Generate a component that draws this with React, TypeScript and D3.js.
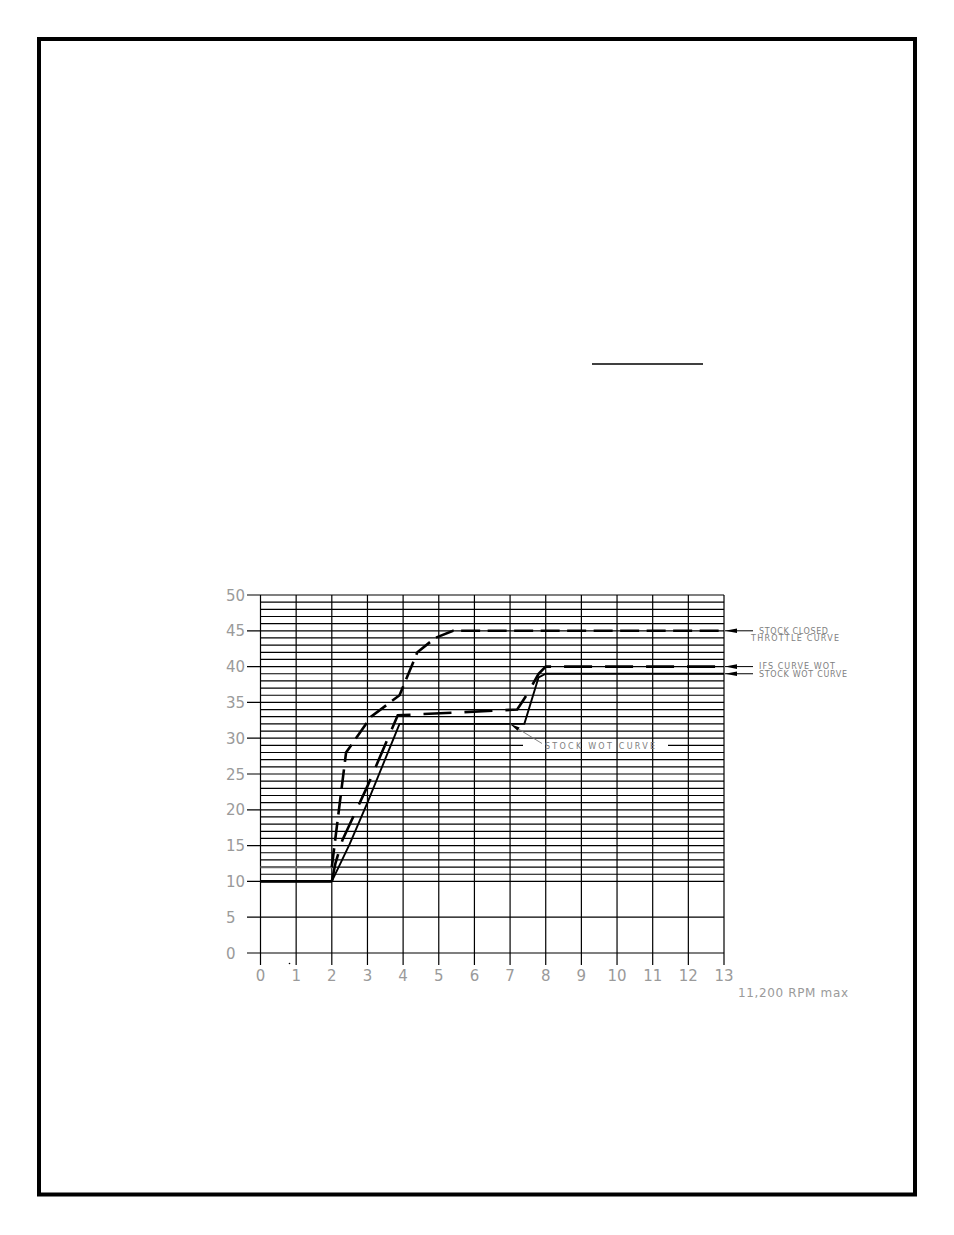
import React from "react";
import * as d3 from "d3";

// engine speed (x 1000 rpm) and timing (degrees)
const rpmTicks = [0, 1, 2, 3, 4, 5, 6, 7, 8, 9, 10, 11, 12, 13];
const degreeTicks = [0, 5, 10, 15, 20, 25, 30, 35, 40, 45, 50];

const closedThrottleX = [0, 2, 2.4, 3.1, 3.9, 4.4, 4.9, 5.4, 13];
const closedThrottleY = [12, 12, 28, 33, 36, 42, 44, 45, 45];

const ifsWotX = [0, 2, 2.1, 2.3, 3, 3.85, 7.2, 7.5, 7.8, 8, 13];
const ifsWotY = [10, 10, 12.5, 15.8, 23.3, 33.2, 34, 36.3, 39, 40, 40];

const stockWotX = [0, 2, 2.5, 3, 3.9, 7.4, 7.8, 8, 13];
const stockWotY = [10, 10, 15.2, 21, 32, 32, 38.5, 39, 39];

const W = 954;
const H = 1235;
const TICK = "#9a9a9a";
const NOTE = "#7e7e7e";
const FONT = "'DejaVu Sans', sans-serif";

type Pt = [number, number];
const zip = (xs: number[], ys: number[]): Pt[] => xs.map((x, i) => [x, ys[i]]);

const arrowHead = (tip: Pt, from: Pt, L: number, hw: number) => {
  const dx = from[0] - tip[0];
  const dy = from[1] - tip[1];
  const len = Math.hypot(dx, dy);
  const ux = dx / len;
  const uy = dy / len;
  const bx = tip[0] + ux * L;
  const by = tip[1] + uy * L;
  return [tip, [bx - uy * hw, by + ux * hw], [bx + uy * hw, by - ux * hw]]
    .map((p) => p.join(","))
    .join(" ");
};

const Arrow = ({ tip, from, color = "#000" }: { tip: Pt; from: Pt; color?: string }) => (
  <g>
    <line x1={tip[0]} y1={tip[1]} x2={from[0]} y2={from[1]} stroke={color} strokeWidth={1} />
    <polygon points={arrowHead(tip, from, 12, 2.3)} fill="#000" />
  </g>
);

export default function App() {
  const x = d3.scaleLinear().domain([0, 13]).range([260.5, 724]);
  const y = d3.scaleLinear().domain([0, 50]).range([953, 595]);

  const line = d3
    .line<Pt>()
    .x((d) => x(d[0]))
    .y((d) => y(d[1]));

  // below 2000 rpm every curve is drawn as a plain baseline
  const split = (pts: Pt[]) => ({
    base: pts.filter((p) => p[0] <= 2),
    rise: pts.filter((p) => p[0] >= 2),
  });

  const closed = split(zip(closedThrottleX, closedThrottleY));
  const ifs = split(zip(ifsWotX, ifsWotY));
  const stock = zip(stockWotX, stockWotY);

  const minor = d3.range(10, 51).filter((v) => v % 5 !== 0);
  const gapLo = 523;
  const gapHi = 668;

  return (
    <svg
      width={W}
      height={H}
      style={{ position: "absolute", left: 0, top: 0, background: "#fff" }}
    >
      {/* page frame */}
      <rect x={39} y={39} width={876} height={1155.5} fill="none" stroke="#000" strokeWidth={4} />
      <line x1={592} x2={703} y1={364} y2={364} stroke="#000" strokeWidth={1.6} />

      {/* grid */}
      <g stroke="#000" strokeWidth={1.2}>
        {minor.map((v) =>
          v === 29 ? (
            <g key={v}>
              <line x1={x(0)} x2={gapLo} y1={y(v)} y2={y(v)} />
              <line x1={gapHi} x2={x(13)} y1={y(v)} y2={y(v)} />
            </g>
          ) : (
            <line key={v} x1={x(0)} x2={x(13)} y1={y(v)} y2={y(v)} />
          )
        )}
        {degreeTicks.map((v) => (
          <line key={v} x1={247} x2={x(13)} y1={y(v)} y2={y(v)} />
        ))}
        {rpmTicks.map((v) => (
          <line key={v} x1={x(v)} x2={x(v)} y1={y(50)} y2={965} />
        ))}
      </g>

      {/* tick labels */}
      <g fill={TICK} fontFamily={FONT} fontSize={15}>
        {degreeTicks.map((v) => (
          <text key={v} x={226} y={y(v) + 5.5}>
            {v}
          </text>
        ))}
        {rpmTicks.map((v) => (
          <text key={v} x={x(v)} y={981} textAnchor="middle">
            {v}
          </text>
        ))}
        <text x={738} y={997} fontSize={12} textLength={110} lengthAdjust="spacing">
          11,200 RPM max
        </text>
      </g>
      <circle cx={289.5} cy={963.5} r={0.8} fill="#000" />

      {/* curves */}
      <path d={line(closed.base) || ""} fill="none" stroke="#6a6a6a" strokeWidth={2.2} />
      <path d={line(ifs.base) || ""} fill="none" stroke="#000" strokeWidth={2.8} />
      <path
        d={line(closed.rise) || ""}
        fill="none"
        stroke="#000"
        strokeWidth={2.6}
        strokeDasharray="19,7.5"
      />
      <path
        d={line(ifs.rise) || ""}
        fill="none"
        stroke="#000"
        strokeWidth={2.6}
        strokeDasharray="28,13"
      />
      <path d={line(stock) || ""} fill="none" stroke="#000" strokeWidth={1.9} strokeLinejoin="round" />

      {/* annotations */}
      <Arrow tip={[725, y(45)]} from={[753, y(45)]} />
      <Arrow tip={[725, y(40)]} from={[753, y(40)]} />
      <Arrow tip={[725, y(39)]} from={[753, y(39)]} />
      <g fill={NOTE} fontFamily={FONT} fontSize={8}>
        <text x={759} y={633.5} textLength={69} lengthAdjust="spacing">STOCK CLOSED</text>
        <text x={751} y={641} textLength={88} lengthAdjust="spacing">THROTTLE CURVE</text>
        <text x={759} y={669} textLength={76} lengthAdjust="spacing">IFS CURVE WOT</text>
        <text x={759} y={677} textLength={88} lengthAdjust="spacing">STOCK WOT CURVE</text>
        <text x={545} y={748.7} textLength={110} lengthAdjust="spacing">STOCK WOT CURVE</text>
      </g>
      <g>
        <line x1={x(7)} y1={y(32)} x2={542} y2={743.5} stroke="#777" strokeWidth={0.9} />
        <polygon points={arrowHead([x(7), y(32)], [542, 743.5], 10, 2)} fill="#000" />
      </g>
    </svg>
  );
}
